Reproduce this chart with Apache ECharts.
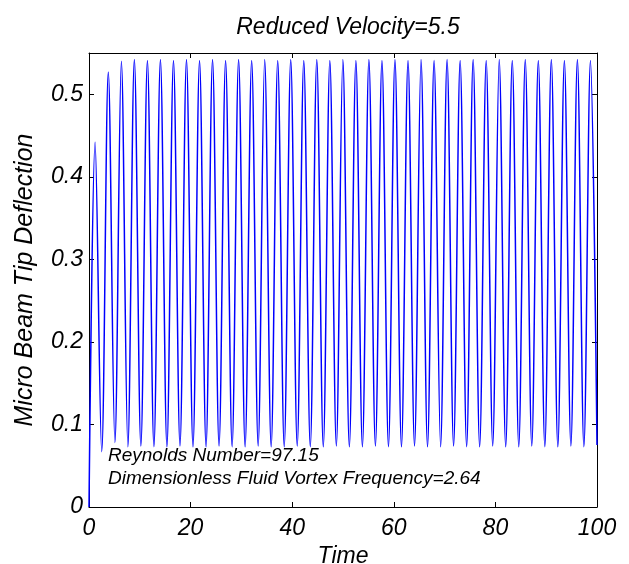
<!DOCTYPE html>
<html>
<head>
<meta charset="utf-8">
<script src="https://cdn.jsdelivr.net/npm/echarts@6/dist/echarts.min.js"></script>
<style>
html,body{margin:0;padding:0;background:#fff;}
#chart{width:629px;height:564px;}
</style>
</head>
<body>
<div id="chart"></div>
<script>
// Data (turning points of the oscillation)
var titleText = 'Reduced Velocity=5.5';
var xAxisName = 'Time';
var yAxisName = 'Micro Beam Tip Deflection';
var noteLines = ['Reynolds Number=97.15', 'Dimensionless Fluid Vortex Frequency=2.64'];
var xTicks = [0, 20, 40, 60, 80, 100];
var yTicks = [0, 0.1, 0.2, 0.3, 0.4, 0.5];

var time = [
  0, 1.2, 2.5, 3.8, 5.1, 6.37, 7.65, 8.93, 10.21, 11.5, 12.78, 14.06, 15.34,
  16.63, 17.91, 19.19, 20.47, 21.76, 23.04, 24.32, 25.6, 26.89, 28.17, 29.45,
  30.73, 32.02, 33.3, 34.58, 35.86, 37.15, 38.43, 39.71, 40.99, 42.28, 43.56,
  44.84, 46.12, 47.41, 48.69, 49.97, 51.25, 52.54, 53.82, 55.1, 56.38, 57.67,
  58.95, 60.23, 61.51, 62.8, 64.08, 65.36, 66.64, 67.93, 69.21, 70.49, 71.77,
  73.06, 74.34, 75.62, 76.9, 78.19, 79.47, 80.75, 82.03, 83.32, 84.6, 85.88,
  87.16, 88.45, 89.73, 91.01, 92.29, 93.58, 94.86, 96.14, 97.42, 98.71, 100
];
var deflection = [
  0, 0.442, 0.067, 0.527, 0.078, 0.540, 0.073, 0.542, 0.074, 0.541, 0.073,
  0.542, 0.073, 0.541, 0.074, 0.542, 0.073, 0.541, 0.073, 0.542, 0.074,
  0.541, 0.073, 0.542, 0.073, 0.541, 0.074, 0.542, 0.073, 0.541, 0.073,
  0.542, 0.074, 0.541, 0.073, 0.542, 0.073, 0.541, 0.074, 0.542, 0.073,
  0.541, 0.073, 0.542, 0.074, 0.541, 0.073, 0.542, 0.073, 0.541, 0.074,
  0.542, 0.073, 0.541, 0.073, 0.542, 0.074, 0.541, 0.073, 0.542, 0.073,
  0.541, 0.074, 0.542, 0.073, 0.541, 0.073, 0.542, 0.074, 0.541, 0.073,
  0.542, 0.073, 0.541, 0.074, 0.542, 0.073, 0.541, 0.075
];

var seriesData = time.map(function (t, i) { return [t, deflection[i]]; });

var FONT = '"Liberation Sans", Arial, Helvetica, sans-serif';
var chart = echarts.init(document.getElementById('chart'), null, {renderer: 'canvas'});

var tickStyle = {show: true, inside: true, length: 5, lineStyle: {color: '#000', width: 1}};
function txt(size) {
  return {color: '#000', fontSize: size, fontStyle: 'italic', fontWeight: 'normal', fontFamily: FONT};
}

chart.setOption({
  animation: false,
  backgroundColor: '#fff',
  title: {
    text: titleText,
    left: 343, top: 11, textAlign: 'center',
    textStyle: txt(23)
  },
  grid: {left: 89, right: 32, top: 53, bottom: 57, show: false, containLabel: false, outerBoundsMode: 'none'},
  xAxis: [{
    type: 'value', min: 0, max: 100, interval: 20,
    name: xAxisName, nameLocation: 'middle', nameGap: 34,
    nameTextStyle: txt(23),
    axisLine: {show: true, lineStyle: {color: '#000', width: 1}},
    axisTick: tickStyle,
    axisLabel: Object.assign({margin: 10}, txt(23)),
    splitLine: {show: false}
  }, {
    type: 'value', min: 0, max: 100, interval: 20, position: 'top',
    axisLine: {show: true, onZero: false, lineStyle: {color: '#000', width: 1}},
    axisTick: tickStyle, axisLabel: {show: false}, splitLine: {show: false}
  }],
  yAxis: [{
    type: 'value', min: 0, max: 0.55, interval: 0.1,
    name: yAxisName, nameLocation: 'middle', nameGap: 51,
    nameTextStyle: txt(25),
    axisLine: {show: true, lineStyle: {color: '#000', width: 1}},
    axisTick: tickStyle,
    axisLabel: Object.assign({margin: 6, showMaxLabel: false, formatter: function (v) { return String(Math.round(v * 10) / 10); }}, txt(23)),
    splitLine: {show: false}
  }, {
    type: 'value', min: 0, max: 0.55, interval: 0.1, position: 'right',
    axisLine: {show: true, onZero: false, lineStyle: {color: '#000', width: 1}},
    axisTick: tickStyle, axisLabel: {show: false}, splitLine: {show: false}
  }],
  series: [{
    type: 'line',
    data: seriesData,
    showSymbol: false,
    smooth: 0.35,
    lineStyle: {color: '#0000ff', width: 1.5},
    itemStyle: {color: '#0000ff'},
    clip: true
  }],
  graphic: noteLines.map(function (s, i) {
    return {
      type: 'text', left: 108, top: 446 + i * 23,
      style: {text: s, fill: '#000', font: 'italic 19px ' + FONT}
    };
  })
});
</script>
</body>
</html>
